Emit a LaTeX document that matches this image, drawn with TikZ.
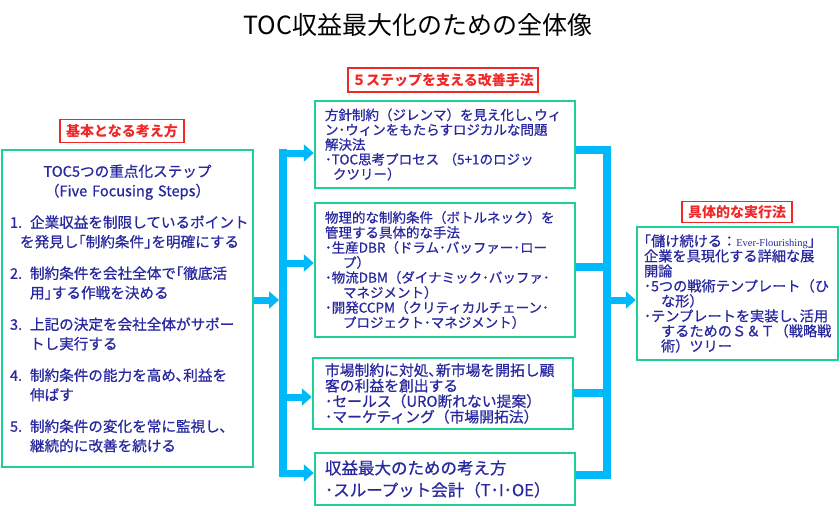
\documentclass[tikz,border=0pt]{standalone}
\usepackage{fontspec}
\newfontfamily\jp{Noto Sans CJK JP}
\newfontfamily\jpb{Noto Sans CJK JP}[FakeBold=0.7]
\newfontfamily\enserif{Liberation Serif}
\usetikzlibrary{arrows.meta}
\definecolor{boxgreen}{RGB}{30,208,150}
\definecolor{flowcyan}{RGB}{0,185,250}
\definecolor{tagred}{RGB}{240,40,40}
\definecolor{txtblue}{RGB}{40,40,160}

\begin{document}
\begin{tikzpicture}[x=1pt,y=-1pt,
  gbox/.style={draw=boxgreen, line width=2.5pt, fill=white, align=left, text=txtblue, inner ysep=2pt},
  tag/.style={draw=tagred, line width=1.2pt, fill=white, text=tagred, font=\jp\bfseries\fontsize{14}{14}\selectfont, inner sep=0pt},
  pipe/.style={draw=flowcyan, line width=8pt, line cap=rect},
  flow/.style={draw=flowcyan, line width=7pt, -{Triangle[length=10pt,width=17pt]}}
]
\useasboundingbox (0,0) rectangle (840,511);
\node[font=\jp\fontsize{25}{25}\selectfont] (title) at (418,25) {TOC収益最大化のための全体像};

\node[tag, minimum width=124pt, minimum height=23pt] (basis) at (122,131) {基本となる考え方};
\node[tag, minimum width=190pt, minimum height=24pt] (support) at (443,80) {５ステップを支える改善手法};
\node[tag, minimum width=110pt, minimum height=21pt] (practice) at (737,212) {具体的な実行法};

\node[gbox, text width=235pt, inner xsep=8pt, minimum height=317pt, font=\jpb\fontsize{14.6}{19.5}\selectfont] (steps) at (127.5,308.5) {%
\makebox[235pt]{TOC5つの重点化ステップ}\\
\makebox[235pt]{（Five Focusing Steps）}\\[12pt]
\makebox[20pt][l]{1.}企業収益を制限しているポイント\\
\hspace*{10pt}を発見し｢制約条件｣を明確にする\\[12pt]
\makebox[20pt][l]{2.}制約条件を会社全体で｢徹底活\\
\hspace*{20pt}用｣する作戦を決める\\[12pt]
\makebox[20pt][l]{3.}上記の決定を会社全体がサポー\\
\hspace*{20pt}トし実行する\\[12pt]
\makebox[20pt][l]{4.}制約条件の能力を高め､利益を\\
\hspace*{20pt}伸ばす\\[12pt]
\makebox[20pt][l]{5.}制約条件の変化を常に監視し､\\
\hspace*{20pt}継続的に改善を続ける};

\node[gbox, text width=240pt, inner xsep=10pt, minimum height=87pt, font=\jpb\fontsize{13.5}{14.8}\selectfont] (dilemma) at (445,144.5) {%
方針制約（ジレンマ）を見え化し､ウィ\\
ン･ウィンをもたらすロジカルな問題\\
解決法\\
･TOC思考プロセス （5+1のロジッ\\
\hspace*{8pt}クツリー）};

\node[gbox, text width=240pt, inner xsep=10pt, minimum height=134pt, font=\jpb\fontsize{13.5}{15}\selectfont] (bottleneck) at (445,270) {%
物理的な制約条件（ボトルネック）を\\
管理する具体的な手法\\
･生産DBR（ドラム･バッファー･ロー\\
\hspace*{18pt}プ）\\
･物流DBM（ダイナミック･バッファ･\\
\hspace*{18pt}マネジメント）\\
･開発CCPM（クリティカルチェーン･\\
\hspace*{18pt}プロジェクト･マネジメント）};

\node[gbox, text width=236pt, inner xsep=12pt, minimum height=71pt, font=\jpb\fontsize{14.8}{15.5}\selectfont] (market) at (443,393.5) {%
市場制約に対処､新市場を開拓し顧\\
客の利益を創出する\\
･セールス（URO断れない提案）\\
･マーケティング（市場開拓法）};

\node[gbox, text width=240pt, inner xsep=10pt, minimum height=52pt, font=\jpb\fontsize{16.5}{22}\selectfont] (throughput) at (445,479) {%
収益最大のための考え方\\
･スループット会計（T･I･OE）};

\node[gbox, text width=187pt, inner xsep=7pt, minimum height=133pt, font=\jpb\fontsize{14.2}{15}\selectfont] (ever) at (737.5,293.5) {%
｢儲け続ける：{\enserif\fontsize{10.5}{10.5}\selectfont Ever-Flourishing}｣\\
企業を具現化する詳細な展\\
開論\\
･5つの戦術テンプレート（ひ\\
\hspace*{17pt}な形）\\
･テンプレートを実装し､活用\\
\hspace*{17pt}するためのＳ＆Ｔ（戦略戦\\
\hspace*{17pt}術）ツリー};

\coordinate (lsplit) at (279,300);
\coordinate (ltop) at (283,153);
\coordinate (lmid1) at (283,263);
\coordinate (lmid2) at (283,397);
\coordinate (lbot) at (283,473);
\coordinate (rtop) at (607,150);
\coordinate (rmid1) at (607,267);
\coordinate (rmid2) at (607,393);
\coordinate (rbot) at (607,475);
\coordinate (rsplit) at (607,300);

\draw[pipe] (ltop) -- (lbot);
\draw[flow] (steps.east |- lsplit) -- (lsplit);
\draw[flow] (ltop) -- (ltop -| dilemma.west);
\draw[flow] (lmid1) -- (lmid1 -| bottleneck.west);
\draw[flow] (lmid2) -- (lmid2 -| market.west);
\draw[flow] (lbot) -- (lbot -| throughput.west);

\draw[pipe] (rtop) -- (rbot);
\draw[pipe, line cap=butt] (dilemma.east |- rtop) -- (rtop);
\draw[pipe, line cap=butt] (bottleneck.east |- rmid1) -- (rmid1);
\draw[pipe, line cap=butt] (market.east |- rmid2) -- (rmid2);
\draw[pipe, line cap=butt] (throughput.east |- rbot) -- (rbot);
\draw[flow] (rsplit) -- (rsplit -| ever.west);
\end{tikzpicture}
\end{document}
